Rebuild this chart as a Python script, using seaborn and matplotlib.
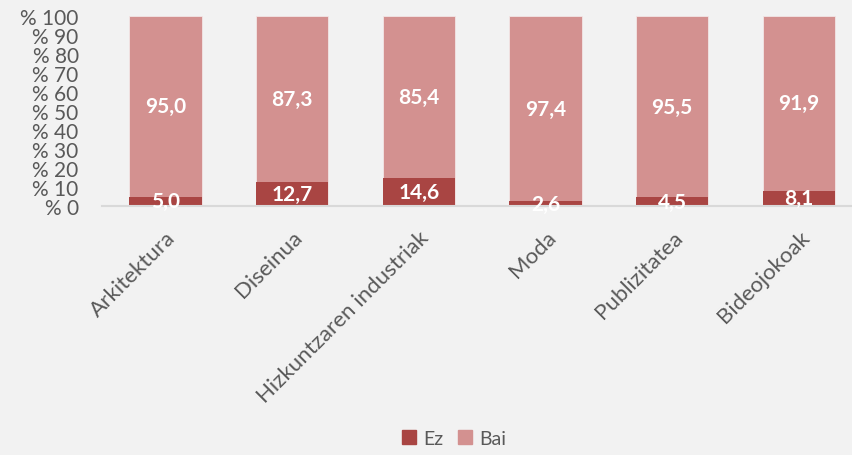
import numpy as np
import pandas as pd
import seaborn as sns
import matplotlib.pyplot as plt
from matplotlib.patches import Patch

# Data
categories = ['Arkitektura', 'Diseinua', 'Hizkuntzaren industriak', 'Moda', 'Publizitatea', 'Bideojokoak']
ez = [5.0, 12.7, 14.6, 2.6, 4.5, 8.1]
bai = [95.0, 87.3, 85.4, 97.4, 95.5, 91.9]
yticks = [0, 10, 20, 30, 40, 50, 60, 70, 80, 90, 100]

ez_color = '#A94543'
bai_color = '#D39190'
bg = '#F2F2F2'
grey = '#595959'

sns.set_theme(style='white')
plt.rcParams['font.family'] = ['Lato', 'DejaVu Sans']

df = pd.DataFrame({'cat': categories, 'Ez': ez, 'Bai': bai})
df['total'] = df['Ez'] + df['Bai']

fig = plt.figure(figsize=(8.52, 4.56), dpi=100, facecolor=bg)
ax = fig.add_axes([0.12, 0.546, 0.892, 0.417])
ax.set_facecolor(bg)

# stacked: total bar in Bai colour, Ez drawn over it
sns.barplot(data=df, x='cat', y='total', color=bai_color, width=0.57,
            saturation=1, ax=ax, edgecolor='#F2E6E6', linewidth=0.6)
sns.barplot(data=df, x='cat', y='Ez', color=ez_color, width=0.57,
            saturation=1, ax=ax, linewidth=0)

for i, (e, b) in enumerate(zip(ez, bai)):
    ax.text(i, e / 2, f'{e:.1f}'.replace('.', ','), ha='center', va='center',
            color='white', fontsize=15, fontweight='bold')
    ax.text(i, e + b / 2, f'{b:.1f}'.replace('.', ','), ha='center', va='center',
            color='white', fontsize=15, fontweight='bold')

ax.set_ylim(0, 100)
ax.set_xlim(-0.5, 5.5)
ax.set_yticks(yticks)
ax.set_yticklabels([f'% {t}' for t in yticks], color=grey, fontsize=15)
ax.set_xticks(range(len(categories)))
ax.set_xticklabels(categories, rotation=45, ha='right', rotation_mode='anchor',
                   color=grey, fontsize=16)
ax.tick_params(axis='y', length=0, pad=17)
ax.tick_params(axis='x', length=0, pad=15)
ax.set_xlabel('')
ax.set_ylabel('')
for s in ['top', 'right', 'left']:
    ax.spines[s].set_visible(False)
ax.spines['bottom'].set_color('#D9D9D9')
ax.spines['bottom'].set_linewidth(1.5)

handles = [Patch(color=ez_color, label='Ez'), Patch(color=bai_color, label='Bai')]
fig.legend(handles=handles, loc='lower center', bbox_to_anchor=(0.533, -0.02), ncol=2,
           frameon=False, fontsize=14, handlelength=0.7, handleheight=0.7,
           handletextpad=0.35, columnspacing=0.8, labelcolor=grey)

fig.savefig('out.png', dpi=100, facecolor=bg)
